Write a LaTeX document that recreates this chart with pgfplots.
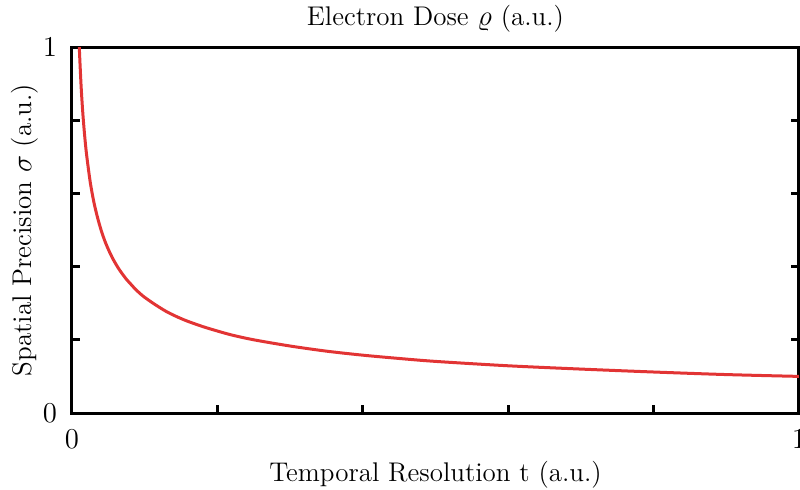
\documentclass[border=0pt]{standalone}
\usepackage{pgfplots}
\pgfplotsset{compat=1.18}
\definecolor{curvered}{RGB}{226,52,52}
\begin{document}
\begin{tikzpicture}[x=1pt,y=1pt]
\begin{axis}[
  at={(36pt,38pt)}, anchor=south west,
  scale only axis, width=363.5pt, height=183pt,
  xmin=0, xmax=1, ymin=0, ymax=1,
  xtick={0,1}, ytick={0,1},
  minor xtick={0.2,0.4,0.6,0.8},
  minor ytick={0.2,0.4,0.6,0.8},
  tick align=inside,
  xtick pos=bottom, ytick pos=both,
  major tick length=4pt, minor tick length=4pt,
  every tick/.style={black, line width=1.4pt},
  axis line style={line width=1.5pt},
  tick label style={font=\fontsize{14}{16}\selectfont},
  xticklabel style={yshift=-5pt},
  yticklabel style={xshift=-4pt},
  label style={font=\fontsize{13.5}{16}\selectfont},
  xlabel={Temporal Resolution t (a.u.)},
  ylabel={Spatial Precision $\sigma$ (a.u.)},
  xlabel style={yshift=0.5pt},
  ylabel style={yshift=-4.5pt},
  title={Electron Dose $\varrho$ (a.u.)},
  title style={font=\fontsize{13.5}{16}\selectfont, yshift=-2pt},
  clip=true,
]
\addplot[curvered, line width=1.5pt, smooth] coordinates {
 (0.009,1.054) (0.01,1.000) (0.0125,0.894) (0.015,0.816) (0.0175,0.756)
 (0.02,0.707) (0.025,0.632) (0.03,0.577) (0.035,0.535) (0.04,0.500)
 (0.045,0.471) (0.05,0.447) (0.055,0.426) (0.06,0.408) (0.065,0.392)
 (0.07,0.378) (0.075,0.365) (0.08,0.354) (0.085,0.343) (0.09,0.333)
 (0.095,0.324) (0.10,0.316) (0.11,0.302) (0.12,0.289) (0.13,0.277)
 (0.14,0.267) (0.15,0.258) (0.16,0.250) (0.18,0.236) (0.20,0.224)
 (0.22,0.213) (0.25,0.200) (0.30,0.183) (0.35,0.169) (0.40,0.158)
 (0.45,0.149) (0.50,0.141) (0.60,0.129) (0.70,0.120) (0.80,0.112)
 (0.90,0.105) (1.00,0.100)
};
\end{axis}
\pgfresetboundingbox
\path[use as bounding box] (0,0) rectangle (400pt,244.5pt);
\end{tikzpicture}
\end{document}
